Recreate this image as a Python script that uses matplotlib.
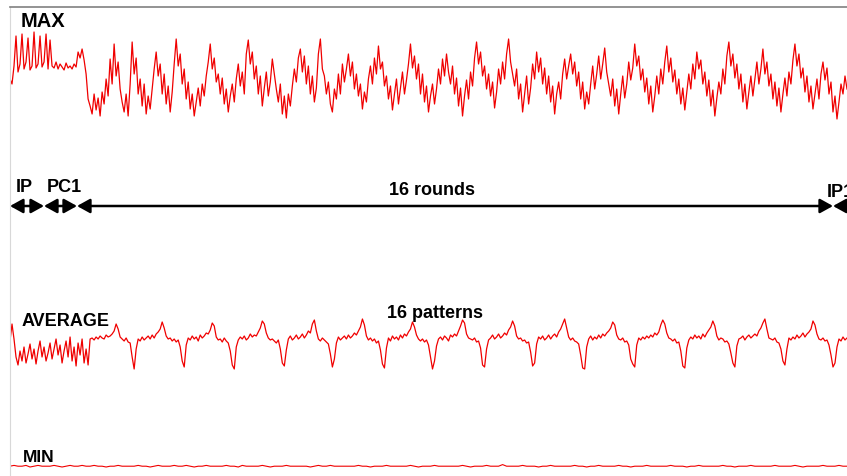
import numpy as np
import matplotlib
matplotlib.use("Agg")
import matplotlib.pyplot as plt

# trace levels (arbitrary units, bigger = higher on the plot)
max_trace = [
    45, 40, 58, 88, 52, 60, 90, 55, 62, 86, 54, 58, 92, 56, 60, 88, 57, 62, 90, 55,
    84, 58, 56, 62, 55, 60, 57, 54, 61, 56, 58, 55, 60, 57, 72, 66, 75, 64, 50, 25,
    18, 10, 30, 14, 26, 8, 32, 20, 45, 28, 65, 40, 80, 48, 62, 35, 22, 12, 30, 8,
    40, 82, 50, 66, 30, 45, 18, 40, 10, 28, 15, 35, 55, 72, 48, 60, 30, 50, 20, 38,
    12, 32, 60, 85, 58, 70, 40, 55, 25, 42, 15, 30, 8, 22, 36, 18, 40, 28, 48, 62,
    80, 55, 66, 42, 50, 30, 46, 20, 35, 12, 28, 40, 22, 45, 60, 38, 52, 30, 70, 84,
    60, 72, 45, 58, 30, 48, 18, 36, 52, 28, 42, 65, 50, 35, 22, 40, 10, 28, 6, 30,
    18, 38, 55, 42, 66, 75, 52, 68, 40, 58, 30, 48, 22, 36, 70, 85, 55, 48, 30, 42,
    20, 12, 35, 25, 50, 30, 60, 42, 55, 70, 48, 62, 35, 50, 28, 40, 15, 32, 22, 45,
    58, 40, 66, 50, 78, 55, 62, 38, 48, 25, 38, 14, 30, 45, 20, 36, 52, 30, 44, 60,
    80, 56, 68, 45, 60, 30, 50, 22, 38, 12, 28, 40, 20, 35, 55, 40, 65, 48, 70, 52,
    40, 58, 30, 46, 18, 36, 8, 28, 44, 25, 52, 38, 66, 82, 60, 72, 48, 58, 35, 50,
    28, 42, 16, 32, 55, 40, 62, 45, 70, 85, 62, 50, 38, 55, 25, 40, 12, 30, 48, 20,
    36, 60, 45, 72, 52, 66, 40, 56, 30, 48, 22, 38, 10, 30, 42, 25, 50, 65, 45, 58,
    70, 50, 62, 38, 52, 25, 42, 15, 32, 20, 40, 58, 35, 50, 68, 45, 60, 76, 52, 40,
    28, 45, 18, 35, 10, 30, 48, 26, 40, 62, 44, 56, 80, 58, 68, 44, 55, 32, 46, 20,
    38, 12, 28, 48, 30, 55, 40, 62, 78, 52, 66, 42, 54, 30, 45, 20, 36, 14, 32, 50,
    35, 60, 45, 72, 55, 64, 40, 52, 28, 44, 18, 34, 8, 26, 42, 30, 55, 40, 68, 82,
    58, 70, 46, 60, 35, 50, 22, 40, 15, 32, 48, 28, 45, 62, 40, 55, 75, 50, 62, 38,
    50, 25, 42, 18, 36, 12, 30, 46, 28, 52, 40, 64, 80, 58, 70, 46, 56, 32, 48, 22,
    38, 15, 30, 45, 25, 50, 62, 44, 56, 30, 42, 12, 28, 5, 22, 40, 30, 48, 35,
]

avg_trace = [
    28, 45, 30, 12, 4, 18, 8, 22, 6, 15, 25, 10, 20, 5, 18, 28, 12, 22, 8, 16,
    26, 10, 20, 30, 14, 24, 6, 18, 28, 12, 32, 8, 22, 3, 26, 14, 30, 6, 20, 4,
    30, 31, 29, 32, 30, 33, 31, 30, 34, 32, 33, 35, 38, 45, 40, 32, 30, 28, 31, 27,
    26, 12, 0,
    20, 30, 28, 32, 29, 31, 33, 30, 34, 31, 35, 37, 40, 47, 41, 33, 30, 31, 28, 30, 27, 29, 22, 8, 2,
    24, 31, 29, 33, 30, 32, 28, 34, 31, 33, 36, 35, 39, 46, 43, 32, 29, 30, 27, 31, 28, 26, 18, 4, 0,
    22, 29, 32, 30, 33, 29, 31, 35, 32, 34, 33, 37, 41, 48, 45, 36, 31, 29, 30, 28, 26, 29, 20, 6, 3,
    19, 30, 33, 29, 31, 34, 30, 32, 35, 31, 34, 38, 36, 45, 49, 38, 30, 28, 31, 29, 27, 25, 15, 2, 10,
    26, 32, 29, 31, 33, 30, 34, 31, 33, 36, 34, 38, 42, 50, 44, 33, 29, 31, 28, 30, 26, 28, 19, 5, 1,
    21, 31, 28, 33, 30, 32, 29, 34, 31, 35, 33, 37, 40, 47, 42, 34, 30, 28, 30, 27, 29, 24, 12, 0, 8,
    23, 30, 32, 29, 33, 31, 28, 34, 32, 35, 33, 38, 43, 49, 46, 35, 31, 30, 29, 31, 27, 28, 21, 4, 2,
    20, 29, 31, 34, 30, 32, 35, 31, 33, 36, 34, 39, 42, 48, 43, 33, 30, 31, 28, 29, 26, 27, 17, 3, 6,
    25, 32, 30, 33, 29, 31, 34, 30, 33, 35, 32, 37, 40, 45, 50, 41, 32, 29, 31, 28, 27, 25, 14, 1, 0,
    22, 30, 33, 29, 32, 30, 34, 31, 35, 33, 36, 38, 41, 47, 44, 34, 30, 29, 31, 27, 28, 24, 10, 5, 2,
    24, 31, 29, 32, 30, 33, 31, 34, 32, 36, 34, 37, 44, 49, 45, 36, 31, 30, 28, 30, 26, 27, 18, 3, 1,
    21, 29, 32, 30, 34, 31, 33, 30, 35, 32, 36, 39, 42, 48, 43, 33, 29, 31, 30, 27, 28, 25, 16, 6, 2,
    23, 30, 31, 33, 29, 32, 34, 31, 33, 35, 33, 38, 41, 46, 50, 40, 31, 30, 29, 31, 27, 26, 20, 8, 4,
    20, 31, 29, 32, 30, 34, 31, 33, 36, 32, 35, 37, 40, 48, 44, 35, 30, 29, 31, 28, 29, 24, 14, 2, 6,
    22, 30, 28, 32, 29, 31,
]

min_trace = [
    1, 2, 1, 1, 2, 0, 1, 2, 1, 1, 1, 2, 1, 0, 1, 2, 1, 1, 2, 1, 1,
    2, 1, 1, 0, 1, 1, 2, 1, 1, 1, 1, 2, 1, 1, 0, 1, 2, 1, 1, 1, 2,
    1, 1, 2, 1, 0, 1, 1, 2, 1, 1, 1, 1, 2, 1, 1, 0, 2, 1, 1, 1, 1,
    2, 1, 0, 1, 1, 1, 2, 1, 1, 1, 1, 1, 0, 1, 2, 1, 1, 2, 1, 1, 1,
    1, 1, 1, 2, 1, 1, 0, 1, 1, 1, 2, 1, 1, 1, 1, 1, 2, 1, 0, 1, 1,
    1, 2, 1, 1, 1, 1, 1, 1, 2, 1, 0, 1, 1, 1, 2, 1, 1, 1, 3, 1, 1,
    1, 1, 2, 1, 1, 1, 0, 1, 1, 2, 1, 1, 1, 1, 1, 2, 1, 1, 0, 1, 1,
    2, 1, 1, 1, 1, 2, 1, 1, 0, 1, 1, 1, 2, 1, 1, 1, 1, 1, 2, 1, 1,
    1, 0, 1, 1, 2, 1, 1, 1, 1, 1, 2, 1, 1, 0, 1, 1, 1, 2, 1, 1, 1,
    1, 1, 2, 1, 1, 1, 1, 2, 1, 0, 1, 1, 1, 1, 2, 1, 1, 1, 2, 1, 1,
]

# phases along the time axis
phase_names = ["IP", "PC1", "16 rounds", "IP1"]
phase_edges = [10, 44, 77, 833, 880]
phase_label_x = [24, 64, 432, 827]

RED = "#f00000"

plt.rcParams["font.family"] = ["Liberation Sans", "DejaVu Sans"]

fig = plt.figure(figsize=(8.47, 4.77), dpi=100)
ax = fig.add_axes([10 / 847, 0, 837 / 847, 469 / 477])
ax.set_xlim(10, 847)
ax.set_ylim(477, 8)
ax.set_xticks([])
ax.set_yticks([])
ax.spines["top"].set_color("#808080")
ax.spines["top"].set_linewidth(1.2)
ax.spines["left"].set_color("#d8d8d8")
ax.spines["right"].set_visible(False)
ax.spines["bottom"].set_visible(False)

# MAX trace
y = np.array(max_trace, dtype=float)
x = np.linspace(10, 847, len(y))
ax.plot(x, 125 - y, color=RED, lw=0.9)

# AVERAGE trace
y = np.array(avg_trace, dtype=float)
x = np.linspace(10, 847, len(y))
ax.plot(x, 370 - y, color=RED, lw=0.9)

# MIN trace
y = np.array(min_trace, dtype=float)
x = np.linspace(10, 847, len(y))
ax.plot(x, 468 - 0.8 * y, color=RED, lw=0.8)

# phase arrows
for i in range(len(phase_names)):
    ax.annotate("", xy=(phase_edges[i + 1], 207), xytext=(phase_edges[i], 207),
                annotation_clip=False,
                arrowprops=dict(arrowstyle="<|-|>,head_length=0.65,head_width=0.36",
                                mutation_scale=12, color="black", lw=1.8,
                                shrinkA=0, shrinkB=0))
label_y = [192, 192, 195, 197]
for name, lx, ly in zip(phase_names, phase_label_x, label_y):
    ha = "left" if name == "IP1" else "center"
    ax.text(lx, ly, name, ha=ha, va="baseline", fontsize=13, fontweight="bold",
            clip_on=False)

# trace labels
ax.text(21, 27, "MAX", fontsize=14.5, fontweight="bold", va="baseline")
ax.text(22, 326, "AVERAGE", fontsize=13, fontweight="bold", va="baseline")
ax.text(435, 318, "16 patterns", fontsize=13, fontweight="bold", va="baseline", ha="center")
ax.text(23, 462, "MIN", fontsize=12.5, fontweight="bold", va="baseline")

fig.savefig("out.png", dpi=100)
